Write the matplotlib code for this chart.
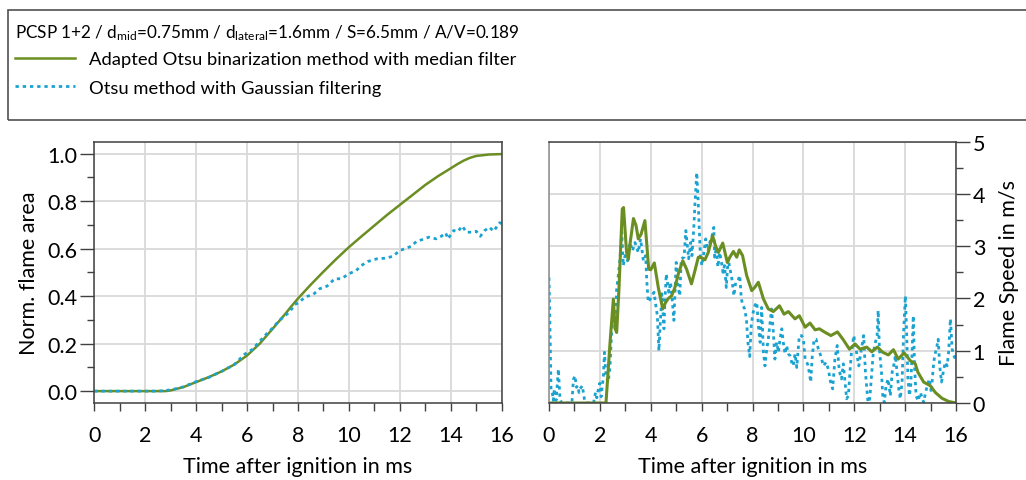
import numpy as np
import matplotlib
matplotlib.use("Agg")
import matplotlib.pyplot as plt
from matplotlib.patches import Rectangle
from matplotlib.ticker import MultipleLocator, FormatStrFormatter

plt.rcParams['font.family'] = ['Lato', 'DejaVu Sans']
plt.rcParams['mathtext.default'] = 'regular'

green = '#6b8e23'
blue = '#1aa3d1'

# --- normalised flame area (left) ---
area_med_t = [0, 1, 2, 2.5, 2.8, 3.0, 3.5, 4.0, 4.5, 5.0, 5.5, 6.0, 6.5, 7.0, 7.5, 7.7, 8.0, 8.5,
              9.0, 9.5, 10.0, 10.5, 11.0, 11.5, 12.0, 12.5, 13.0, 13.5, 14.0, 14.25, 14.5, 14.75,
              15.0, 15.5, 16.0]
area_med = [0, 0, 0, 0, 0.0, 0.003, 0.017, 0.038, 0.059, 0.083, 0.112, 0.15, 0.2, 0.262, 0.325, 0.352,
            0.39, 0.448, 0.503, 0.556, 0.606, 0.652, 0.697, 0.742, 0.784, 0.826, 0.868, 0.905,
            0.938, 0.955, 0.97, 0.982, 0.99, 0.996, 0.998]

area_gauss_t = [0, 1, 2, 2.5, 3.0, 3.5, 4.0, 4.5, 5.0, 5.5, 5.9, 6.2, 6.5, 6.8, 7.0, 7.2, 7.4, 7.67,
                7.87, 8.07, 8.26, 8.59, 8.85, 9.14, 9.44, 9.7, 10.0, 10.29, 10.49, 10.75, 11.1, 11.47,
                11.73, 12.0, 12.19, 12.45, 12.65, 12.88, 13.14, 13.43, 13.63, 13.8, 13.89, 14.11,
                14.28, 14.45, 14.61, 14.81, 15.0, 15.16, 15.33, 15.52, 15.68, 15.92, 16.0]
area_gauss = [0, 0, 0, 0, 0.005, 0.018, 0.04, 0.058, 0.083, 0.112, 0.155, 0.175, 0.21, 0.245, 0.265,
              0.29, 0.31, 0.333, 0.364, 0.375, 0.396, 0.406, 0.431, 0.442, 0.473, 0.473, 0.494,
              0.508, 0.529, 0.546, 0.557, 0.56, 0.568, 0.592, 0.599, 0.61, 0.63, 0.638, 0.648,
              0.641, 0.652, 0.666, 0.641, 0.676, 0.672, 0.695, 0.669, 0.669, 0.673, 0.652, 0.676,
              0.69, 0.673, 0.709, 0.705]

# --- flame speed (right) ---
speed_med_t = [0, 2.24, 2.4, 2.53, 2.6, 2.66, 2.75, 2.88, 2.93, 3.05, 3.12, 3.2, 3.32, 3.42, 3.51,
               3.62, 3.77, 3.85, 3.92, 4.0, 4.14, 4.3, 4.47, 4.58, 4.69, 4.82, 4.95, 5.1, 5.26,
               5.41, 5.6, 5.72, 5.87, 6.0, 6.13, 6.26, 6.43, 6.55, 6.66, 6.83, 7.01, 7.12, 7.25,
               7.38, 7.48, 7.61, 7.77, 7.97, 8.1, 8.23, 8.43, 8.62, 8.82, 9.06, 9.24, 9.41, 9.67,
               9.84, 10.07, 10.26, 10.46, 10.63, 10.79, 11.08, 11.34, 11.57, 11.81, 12.03, 12.23,
               12.49, 12.69, 12.91, 13.12, 13.34, 13.54, 13.73, 13.96, 14.2, 14.4, 14.5, 14.73,
               14.99, 15.19, 15.45, 15.71, 15.9, 16.0]
speed_med = [0, 0, 1.16, 1.99, 1.42, 1.35, 2.18, 3.71, 3.74, 2.88, 2.75, 3.1, 3.53, 3.4, 3.14,
             3.23, 3.49, 3.0, 2.56, 2.55, 2.68, 2.2, 1.8, 1.92, 2.0, 2.05, 2.21, 2.5, 2.72,
             2.56, 2.28, 2.5, 2.79, 2.78, 2.74, 2.88, 3.2, 3.0, 2.88, 3.06, 2.69, 2.8, 2.9,
             2.79, 2.93, 2.82, 2.44, 2.15, 2.22, 2.31, 1.99, 1.8, 1.75, 1.86, 1.7, 1.75, 1.61,
             1.67, 1.45, 1.53, 1.4, 1.42, 1.37, 1.29, 1.36, 1.21, 1.03, 1.13, 1.03,
             1.07, 0.98, 1.07, 0.97, 0.92, 1.02, 0.84, 0.96, 0.81, 0.75, 0.59, 0.4,
             0.33, 0.2, 0.09, 0.03, 0.01, 0.0]

speed_gauss_t = [0.0, 0.04, 0.08, 0.13, 0.17, 0.21, 0.28, 0.37, 0.43, 0.5, 0.9, 0.96, 1.02, 1.08,
                 1.13, 1.18, 1.22, 1.31, 1.39, 1.45, 1.75, 1.83, 1.88, 1.94, 2.0, 2.05, 2.14, 2.18,
                 2.24, 2.33, 2.4, 2.46, 2.53, 2.6, 2.66, 2.73, 2.79, 2.86, 2.92, 2.99, 3.09, 3.18,
                 3.28, 3.38, 3.51, 3.6, 3.71, 3.8, 3.84, 3.9, 4.02, 4.13, 4.18, 4.26, 4.32, 4.39,
                 4.44, 4.52, 4.55, 4.61, 4.71, 4.78, 4.84, 4.91, 5.0, 5.07, 5.14, 5.2, 5.31, 5.38,
                 5.44, 5.49, 5.57, 5.62, 5.69, 5.74, 5.81, 5.86, 5.91, 5.95, 6.01, 6.09, 6.16, 6.25,
                 6.32, 6.41, 6.48, 6.51, 6.58, 6.64, 6.71, 6.78, 6.84, 6.9, 6.97, 7.04, 7.1, 7.19,
                 7.27, 7.34, 7.43, 7.5, 7.56, 7.63, 7.69, 7.76, 7.82, 7.89, 7.95, 8.01, 8.09, 8.17,
                 8.23, 8.3, 8.36, 8.43, 8.49, 8.56, 8.62, 8.69, 8.75, 8.82, 8.88, 8.95, 9.02, 9.08,
                 9.15, 9.21, 9.28, 9.34, 9.41, 9.47, 9.54, 9.6, 9.67, 9.74, 9.84, 9.93, 10.0, 10.07,
                 10.16, 10.23, 10.29, 10.34, 10.42, 10.5, 10.59, 10.68, 10.79, 10.89, 10.98, 11.07,
                 11.15, 11.24, 11.33, 11.41, 11.5, 11.57, 11.64, 11.7, 11.77, 11.83, 11.89, 11.98,
                 12.05, 12.11, 12.18, 12.28, 12.37, 12.44, 12.54, 12.61, 12.67, 12.74, 12.8, 12.9,
                 12.94, 12.99, 13.07, 13.12, 13.18, 13.25, 13.33, 13.42, 13.49, 13.55, 13.62, 13.68,
                 13.75, 13.81, 13.88, 13.94, 14.01, 14.06, 14.11, 14.17, 14.22, 14.27, 14.32, 14.37,
                 14.43, 14.51, 14.6, 14.73, 14.8, 14.87, 14.95, 15.03, 15.1, 15.16, 15.23, 15.3,
                 15.36, 15.43, 15.52, 15.58, 15.65, 15.71, 15.78, 15.85, 15.91, 15.98]
speed_gauss = [2.4, 1.4, 0.25, 0.2, 0.05, 0.27, 0.05, 0.65, 0.08, 0, 0, 0.45, 0.52, 0.3,
               0.33, 0.2, 0.27, 0.33, 0.08, 0, 0, 0.2, 0.1, 0.27, 0.38, 0.12, 0.52, 0.97,
               0.52, 0.4, 0.71, 1.35, 1.67, 1.54, 2.18, 2.47, 2.76, 3.27, 2.63, 2.82, 2.72, 3.07,
               2.91, 3.07, 2.88, 3.14, 2.72, 2.82, 2.37, 1.93, 2.02, 2.12, 1.93, 1.67, 1.0, 1.67,
               2.09, 1.42, 1.86, 2.47, 2.12, 2.31, 1.99, 1.58, 2.69, 2.24, 2.05, 2.76, 2.79, 3.3,
               3.01, 2.76, 3.07, 2.82, 3.33, 3.84, 4.41, 3.9, 3.27, 2.82, 2.63, 2.88, 3.14, 2.91,
               3.07, 3.2, 3.36, 2.79, 2.98, 2.6, 2.88, 2.69, 2.5, 2.63, 2.21, 2.76, 2.6, 2.37,
               2.05, 2.31, 2.34, 2.44, 1.99, 1.86, 1.8, 1.61, 1.16, 0.89, 1.48, 1.7, 1.86, 1.93,
               1.48, 1.16, 1.83, 0.97, 0.71, 1.03, 1.22, 1.54, 1.8, 1.35, 0.84, 1.16, 0.97, 1.22,
               1.42, 1.16, 0.94, 1.1, 0.94, 0.91, 0.78, 0.71, 0.94, 0.68, 1.29, 1.29, 1.22, 0.84,
               0.75, 0.59, 0.4, 0.84, 1.22, 1.22, 1.03, 0.91, 0.71, 0.78, 0.65, 0.4,
               0.27, 0.84, 1.1, 0.62, 0.46, 0.75, 0.4, 0.08, 0.14, 0.59, 0.97, 1.29,
               1.1, 0.91, 0.71, 1.03, 1.29, 0.59, 0.01, 0.08, 0.46, 0.91, 1.1, 1.29,
               1.77, 1.03, 0.59, 0.14, 0.01, 0.33, 0.46, 0.14, 0.59, 0.71, 0.91, 0.59,
               0.27, 0.08, 0.4, 1.35, 2.05, 1.35, 0.46, 0.14, 0.33, 0.91, 1.67, 0.71,
               0.14, 0.04, 0.2, 0.01, 0.2, 0.33, 0.46, 0.2, 0.65, 0.91, 1.03, 1.22,
               0.71, 0.4, 0.65, 0.78, 0.71, 0.97, 1.61, 1.03, 0.91, 0.84]

label_med = 'Adapted Otsu binarization method with median filter'
label_gauss = 'Otsu method with Gaussian filtering'
title = ('PCSP 1+2 / d$_{mid}$=0.75mm / d$_{lateral}$=1.6mm / '
         'S=6.5mm / A/V=0.189')

W, H = 1026, 481
fig = plt.figure(figsize=(W / 100, H / 100), dpi=100)
ax1 = fig.add_axes([94.3 / W, 77 / H, 407.4 / W, 261.3 / H])
ax2 = fig.add_axes([549 / W, 77 / H, 407 / W, 261.3 / H])

dots = (0, (1.2, 1.4))
fs = 15.5
spine_c = '#404040'

for ax in (ax1, ax2):
    ax.grid(True, which='major', color='#d9d9d9', lw=1.3)
    ax.set_axisbelow(True)
    ax.set_xlim(0, 16)
    ax.xaxis.set_major_locator(MultipleLocator(2))
    ax.xaxis.set_minor_locator(MultipleLocator(1))
    ax.tick_params(axis='x', which='both', direction='out', length=6, width=1,
                   color=spine_c, labelsize=fs, pad=10)
    ax.tick_params(axis='y', which='major', direction='out', length=10, width=1,
                   color=spine_c, labelsize=fs, pad=2)
    ax.tick_params(axis='y', which='minor', direction='out', length=5, width=1, color=spine_c)
    for s in ax.spines.values():
        s.set_color(spine_c)
        s.set_linewidth(1.1)
    ax.set_xlabel('Time after ignition in ms', fontsize=fs, labelpad=8)

# left: area
l1, = ax1.plot(area_med_t, area_med, color=green, lw=1.8, label=label_med)
l2, = ax1.plot(area_gauss_t, area_gauss, color=blue, lw=2.0, ls=dots,
               dash_capstyle='butt', label=label_gauss)
ax1.set_ylim(-0.05, 1.05)
ax1.yaxis.set_major_locator(MultipleLocator(0.2))
ax1.yaxis.set_minor_locator(MultipleLocator(0.1))
ax1.yaxis.set_major_formatter(FormatStrFormatter('%.1f'))
ax1.set_ylabel('Norm. flame area', fontsize=fs, labelpad=6)

# right: speed
ax2.plot(speed_gauss_t, speed_gauss, color=blue, lw=2.0, ls=dots, dash_capstyle='butt')
ax2.plot(speed_med_t, speed_med, color=green, lw=2.2)
ax2.set_ylim(0, 5)
ax2.yaxis.set_major_locator(MultipleLocator(1))
ax2.yaxis.set_minor_locator(MultipleLocator(0.5))
ax2.yaxis.tick_right()
ax2.yaxis.set_label_position('right')
ax2.tick_params(axis='y', which='both', left=False, right=True)
ax2.set_ylabel('Flame Speed in m/s', fontsize=fs, labelpad=10)
ax2.spines['left'].set_color('#8c8c8c')

# legend box across the top
fig.patches.append(Rectangle((8 / W, 1 - 120.7 / H), 1.2, (120.7 - 10.7) / H,
                             transform=fig.transFigure, fill=False,
                             edgecolor='#505050', lw=1.2))
leg = fig.legend(handles=[l1, l2], title=title, loc='upper left',
                 bbox_to_anchor=(2 / W, 1 - 10 / H), frameon=False, fontsize=13.2,
                 title_fontsize=12.3, alignment='left', handlelength=3.3,
                 handletextpad=0.75, labelspacing=0.68, borderaxespad=0.3)
leg._legend_box.sep = 7

fig.savefig('out.png', dpi=100)
